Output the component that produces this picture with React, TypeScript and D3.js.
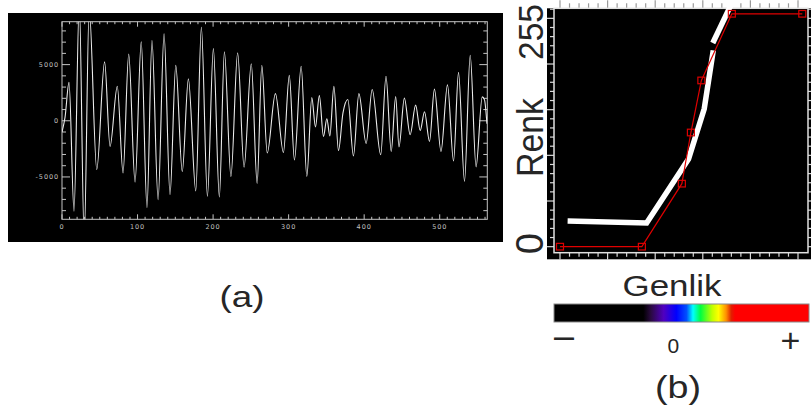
import React from 'react';
import * as d3 from 'd3';

// ---------- Panel (a): seismic trace, extrema ----------
const traceX = [0, 4, 9.3, 15.9, 22.9, 29.4, 36, 46, 56.4, 63.6, 73.2, 80.8, 88.3, 96.7, 104.9, 112.5, 119.1, 127.2, 135.1, 143, 150.6, 159.2, 167.3, 177.1, 184.5, 192.5, 200.4, 208.3, 215, 223.6, 232.5, 241, 250.6, 258.3, 264.5, 271.7, 282.5, 293.1, 300.9, 307.7, 316.6, 324.1, 330.7, 335.5, 340.7, 346.1, 350.6, 354.6, 359.9, 366, 371.9, 378.4, 385.8, 393, 402.6, 410.6, 421.9, 428.9, 435.8, 441.7, 446.1, 453.2, 460.9, 468.1, 474.2, 479.9, 486.5, 493, 501.7, 510.3, 518.3, 524.9, 532.8, 540.4, 548.1, 556.3, 559.3, 562.5];
const traceY = [-1000, 300, 3420, -8050, 10500, -10500, 10000, -4350, 5240, -2280, 3080, -4640, 5950, -5460, 7020, -7730, 7150, -7020, 7740, -6570, 4930, -4530, 3730, -6240, 8320, -6720, 6420, -6790, 6150, -4970, 6060, -4130, 5080, -5580, 4940, -2870, 2420, -2820, 4040, -3490, 4860, -4950, 2060, -550, 2240, -1390, 180, -1360, 3080, -2650, 680, 1890, -3130, 2420, -2020, 2780, -3020, 3970, -2730, 2160, -2330, 2020, -1240, 1390, -870, 800, -1840, 2820, -2730, 3200, -3580, 4310, -5390, 5830, -4100, 2130, 1860, -270];
const xTickLabelsA = [0, 100, 200, 300, 400, 500];
const yTickLabelsA = [-5000, 0, 5000];

// ---------- Panel (b): colour mapping curve ----------
const redX = [0, 1.72, 2.56, 2.75, 2.97, 3.61, 5.09];
const redY = [0, 0, 69, 125, 182, 255, 255];
const whiteX1 = [0.16, 1.82, 2.7, 3.03, 3.22];
const whiteY1 = [28, 26, 96, 151, 215];
const whiteX2 = [3.21, 3.64];
const whiteY2 = [223, 270];
const yTickLabelsB = [0, 255];

// colour bar
const barOffsets = [0, 0.35, 0.38, 0.43, 0.48, 0.52, 0.545, 0.575, 0.62, 0.645, 0.675, 0.695, 0.71, 1];
const barColors = ['#000000', '#000000', '#2a0a40', '#5000c0', '#0000ff', '#0050ff', '#00ffff', '#00ff40', '#c0ff00', '#ffff00', '#ff9000', '#e02000', '#ff0000', '#ff0000'];

export default function App() {
  // scales panel a
  const xA = d3.scaleLinear().domain([0, 563]).range([62, 487.3]);
  const yA = d3.scaleLinear().domain([-8770, 8820]).range([219.3, 21.7]);
  const traceData = traceX.map((x, i) => [x, traceY[i]] as [number, number]);
  const traceLine = d3.line<[number, number]>().x(d => xA(d[0])).y(d => yA(d[1])).curve(d3.curveMonotoneX);

  const xMinorA = d3.range(0, 561, 10);
  const yMinorA = d3.range(-8000, 8001, 1000);

  // scales panel b
  const xB = d3.scaleLinear().domain([-0.126, 5.21]).range([554, 808]);
  const yB = d3.scaleLinear().domain([-6.6, 261]).range([252.7, 8.3]);
  const lineB = d3.line<[number, number]>().x(d => xB(d[0])).y(d => yB(d[1]));
  const redData = redX.map((x, i) => [x, redY[i]] as [number, number]);
  const white1 = whiteX1.map((x, i) => [x, whiteY1[i]] as [number, number]);
  const white2 = whiteX2.map((x, i) => [x, whiteY2[i]] as [number, number]);
  const xMinorB = d3.range(0, 26).map(i => i * 0.2);
  const yMinorB = d3.range(0, 261, 10);

  const labelFont = '"Liberation Sans", Arial, sans-serif';
  const tickFont = '"DejaVu Sans", sans-serif';

  return (
    <svg width={811} height={414} style={{ position: 'absolute', left: 0, top: 0, display: 'block', background: '#fff' }}>
      <defs>
        <clipPath id="clipA">
          <rect x={62} y={21.7} width={425.3} height={197.6} />
        </clipPath>
        <linearGradient id="bar" x1="0" x2="1" y1="0" y2="0">
          {barOffsets.map((o, i) => (
            <stop key={i} offset={o} stopColor={barColors[i]} />
          ))}
        </linearGradient>
      </defs>

      {/* ---------------- Panel (a) ---------------- */}
      <rect x={8} y={13} width={495} height={229} fill="#000" />
      <rect x={62} y={21.7} width={425.3} height={197.6} fill="none" stroke="#c4c4c4" strokeWidth={1} />
      {xMinorA.map(v => {
        const major = v % 100 === 0;
        const len = major ? 5 : 2.5;
        return (
          <g key={'xa' + v}>
            <line x1={xA(v)} x2={xA(v)} y1={219.3} y2={219.3 - len} stroke="#c4c4c4" strokeWidth={1} />
            <line x1={xA(v)} x2={xA(v)} y1={21.7} y2={21.7 + len} stroke="#c4c4c4" strokeWidth={1} />
          </g>
        );
      })}
      {yMinorA.map(v => {
        const major = v % 5000 === 0;
        const len = major ? 8 : 4;
        return (
          <g key={'ya' + v}>
            <line x1={62} x2={62 + len} y1={yA(v)} y2={yA(v)} stroke="#c4c4c4" strokeWidth={1} />
            <line x1={487.3} x2={487.3 - len} y1={yA(v)} y2={yA(v)} stroke="#c4c4c4" strokeWidth={1} />
          </g>
        );
      })}
      {xTickLabelsA.map(v => (
        <text key={'xl' + v} x={xA(v)} y={228.5} fill="#c0c0c0" fontSize={6.5} fontFamily={tickFont} textAnchor="middle" letterSpacing={0.9}>
          {v}
        </text>
      ))}
      {yTickLabelsA.map(v => (
        <text key={'yl' + v} x={59} y={yA(v) + 2.3} fill="#c0c0c0" fontSize={6.5} fontFamily={tickFont} textAnchor="end" letterSpacing={0.9}>
          {v === -5000 ? '-5000' : v}
        </text>
      ))}
      <path d={traceLine(traceData) || ''} fill="none" stroke="#ececec" strokeWidth={1.1} clipPath="url(#clipA)" />
      <text x={242} y={307} fontSize={30} fontFamily={labelFont} fill="#262626" textAnchor="middle" textLength={45} lengthAdjust="spacingAndGlyphs">(a)</text>

      {/* ---------------- Panel (b) ---------------- */}
      <rect x={547} y={8.3} width={264} height={251} fill="#000" />
      {xMinorB.map((v, i) => {
        const major = i % 5 === 0;
        const len = major ? 7 : 4;
        return (
          <g key={'xb' + i}>
            <line x1={xB(v)} x2={xB(v)} y1={252.7} y2={252.7 + len} stroke="#d8d8d8" strokeWidth={1.2} />
            <line x1={xB(v)} x2={xB(v)} y1={8.3} y2={8.3 - len - 1} stroke="#9a9a9a" strokeWidth={1.2} />
          </g>
        );
      })}
      {yMinorB.map(v => {
        const major = v % 50 === 0;
        const len = major ? 7 : 4;
        return (
          <g key={'yb' + v}>
            <line x1={554} x2={554 - len} y1={yB(v)} y2={yB(v)} stroke="#d8d8d8" strokeWidth={1.2} />
            <line x1={808} x2={808 + len} y1={yB(v)} y2={yB(v)} stroke="#d8d8d8" strokeWidth={1.2} />
          </g>
        );
      })}
      <rect x={554} y={8.3} width={254} height={244.4} fill="none" stroke="#e0e0e0" strokeWidth={1.5} />

      <path d={lineB(white1) || ''} fill="none" stroke="#ffffff" strokeWidth={5.5} strokeLinejoin="miter" />
      <path d={lineB(white2) || ''} fill="none" stroke="#ffffff" strokeWidth={5.5} />
      <path d={lineB(redData) || ''} fill="none" stroke="#e00000" strokeWidth={1.2} />
      {redData.map((d, i) => (
        <rect key={'sq' + i} x={xB(d[0]) - 3.5} y={yB(d[1]) - 3.3} width={7} height={6.6} fill="none" stroke="#dd0000" strokeWidth={1.2} />
      ))}

      {/* y labels of panel b */}
      {yTickLabelsB.map(v => (
        v === 0 ? (
          <text key={'ybl' + v} transform={`translate(543,${yB(v) - 3}) rotate(-90)`}
            fontSize={38} fontFamily={labelFont} fill="#262626" textAnchor="middle">
            {v}
          </text>
        ) : (
          <text key={'ybl' + v} transform="translate(543,60) rotate(-90)"
            fontSize={35} fontFamily={labelFont} fill="#262626" textAnchor="start" textLength={56} lengthAdjust="spacingAndGlyphs">
            {v}
          </text>
        )
      ))}
      <text transform="translate(543,137.5) rotate(-90)" fontSize={37} fontFamily={labelFont} fill="#262626" textAnchor="middle" textLength={79} lengthAdjust="spacingAndGlyphs">Renk</text>

      {/* colour bar */}
      <text x={672} y={296} fontSize={29} fontFamily={labelFont} fill="#262626" textAnchor="middle" textLength={99} lengthAdjust="spacingAndGlyphs">Genlik</text>
      <rect x={554} y={304} width={255} height={18} fill="url(#bar)" stroke="#8a8a8a" strokeWidth={1} />
      <text x={554} y={347.5} fontSize={36} fontFamily={labelFont} fill="#262626">–</text>
      <text x={673.3} y={353} fontSize={21} fontFamily={labelFont} fill="#262626" textAnchor="middle">0</text>
      <text x={790.5} y={351.5} fontSize={34} fontFamily={labelFont} fill="#262626" textAnchor="middle">+</text>
      <text x={678} y={398} fontSize={31} fontFamily={labelFont} fill="#262626" textAnchor="middle" textLength={46} lengthAdjust="spacingAndGlyphs">(b)</text>
    </svg>
  );
}
